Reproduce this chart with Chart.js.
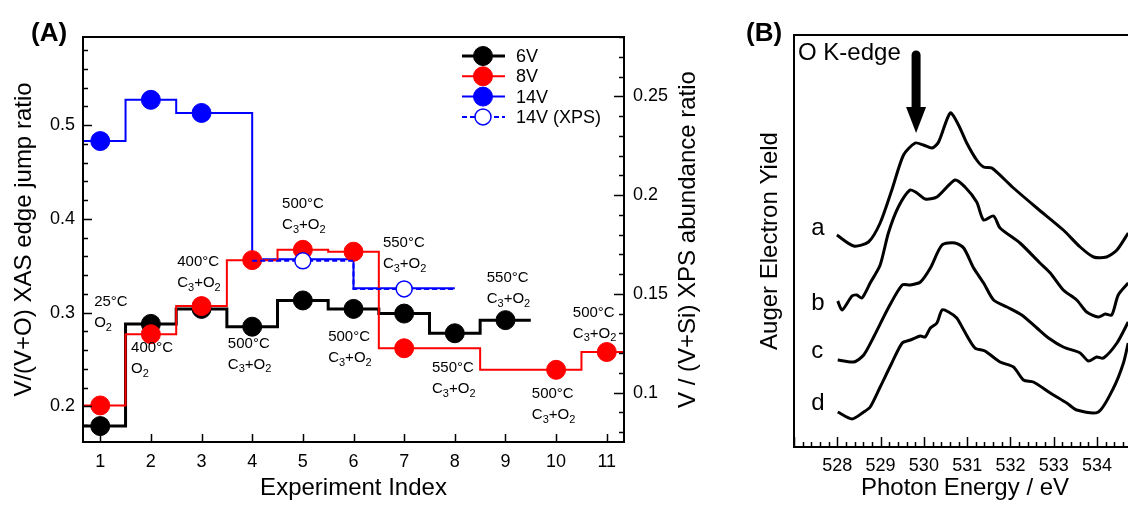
<!DOCTYPE html>
<html lang="en">
<head>
<meta charset="UTF-8" />
<title>V/(V+O) ratios and O K-edge spectra</title>
<style>
  * { margin: 0; padding: 0; box-sizing: border-box; }
  html, body { overflow: hidden; }
  body {
    width: 1128px; height: 505px; position: relative; background: #fff;
    font-family: "Liberation Sans", Arial, sans-serif;
  }
  .panel { position: absolute; top: 0; height: 505px; }
  #boxA { left: 0; width: 720px; }
  #boxB { left: 730px; width: 430px; }
  .tag { position: absolute; top: 16px; font-weight: bold; font-size: 26px; line-height: 32px; }
</style>
</head>
<body>
<div class="panel" id="boxA"><canvas id="chartA"></canvas></div>
<div class="panel" id="boxB"><canvas id="chartB"></canvas></div>
<div class="tag" style="left:31px">(A)</div>
<div class="tag" style="left:746px">(B)</div>

<script src="https://cdn.jsdelivr.net/npm/chart.js"></script>
<script>
const FONT = '"Liberation Sans", Arial, sans-serif';
Chart.defaults.font.family = FONT;
Chart.defaults.color = "#000";

// ---- panel A : experiment index vs ratio ----
const idx6V = [1, 2, 3, 4, 5, 6, 7, 8, 9];
const xas6V = [0.179, 0.288, 0.304, 0.285, 0.313, 0.304, 0.299, 0.278, 0.292];
const idx8V = [1, 2, 3, 4, 5, 6, 7, 10, 11];
const xas8V = [0.201, 0.277, 0.307, 0.356, 0.367, 0.365, 0.262, 0.239, 0.258];
const idx14V = [1, 2, 3, 5, 7];
const xas14V = [0.483, 0.527, 0.513, 0.357, 0.326];
const marked14V = [true, true, true, false, false];
const idxXps = [5, 7];
const xps14V = [0.1667, 0.1525]; // right axis

const xMin = 0.66, xMax = 11.34;

// condition labels: [index, ratio, temperature, gas]
const notes = [
  [0.88, 0.311, "25°C", "O2"],
  [1.61, 0.262, "400°C", "O2"],
  [2.52, 0.354, "400°C", "C3+O2"],
  [3.52, 0.267, "500°C", "C3+O2"],
  [4.59, 0.416, "500°C", "C3+O2"],
  [5.50, 0.274, "500°C", "C3+O2"],
  [6.58, 0.374, "550°C", "C3+O2"],
  [7.55, 0.241, "550°C", "C3+O2"],
  [8.63, 0.337, "550°C", "C3+O2"],
  [9.52, 0.213, "500°C", "C3+O2"],
  [10.33, 0.300, "500°C", "C3+O2"],
];
const legendOrder = ["6V", "8V", "14V", "14V (XPS)"];

// ---- panel B : O K-edge spectra ----
const eA = [527.99, 528.38, 528.72, 528.99, 529.26, 529.53, 529.80, 529.99, 530.19, 530.34, 530.61, 530.80, 530.99, 531.22, 531.38, 531.57, 532.07, 532.61, 533.22, 533.61, 533.92, 534.22, 534.46, 534.72];
const yA = [212, 201, 205, 224, 257, 292, 304, 302, 299, 305, 334, 322, 304, 287, 280, 279, 259, 239, 217, 200, 190, 190, 197, 214];
const eB = [528.01, 528.11, 528.34, 528.45, 528.57, 528.76, 528.99, 529.18, 529.41, 529.68, 529.84, 530.03, 530.30, 530.72, 530.95, 531.22, 531.38, 531.61, 531.76, 532.22, 532.68, 532.92, 533.22, 533.53, 533.76, 534.03, 534.19, 534.34, 534.49, 534.72];
const yB = [146, 137, 151, 152, 149, 164, 182, 214, 240, 257, 254, 248, 250, 267, 260, 245, 227, 231, 219, 204, 184, 174, 157, 147, 135, 130, 133, 132, 152, 164];
const eC = [528.01, 528.38, 528.61, 528.84, 529.19, 529.50, 529.69, 529.92, 530.15, 530.42, 530.72, 530.92, 531.15, 531.38, 531.61, 531.92, 532.26, 532.61, 532.88, 533.22, 533.61, 533.80, 533.99, 534.15, 534.46, 534.72];
const yC = [87, 85, 92, 110, 140, 162, 162, 165, 179, 202, 204, 199, 179, 164, 147, 140, 132, 119, 109, 100, 94, 86, 90, 89, 104, 125];
const eD = [528.01, 528.34, 528.61, 528.76, 528.99, 529.26, 529.50, 529.69, 529.92, 530.03, 530.15, 530.30, 530.42, 530.57, 530.76, 530.92, 531.18, 531.41, 531.76, 532.07, 532.30, 532.53, 532.92, 533.30, 533.53, 534.03, 534.38, 534.61, 534.72];
const yD = [35, 28, 35, 40, 60, 84, 104, 107, 111, 110, 119, 124, 137, 135, 129, 117, 99, 96, 85, 80, 67, 65, 54, 44, 37, 35, 59, 84, 104];
const curveLetters = [["a", 212], ["b", 137], ["c", 89], ["d", 37]];
const letterEnergy = 527.4;
const edgeEnergy = 529.82;

function stepSeries(xs, ys, from, to, marks) {
  const pts = xs.map((x, i) => ({ x: x, y: ys[i], mark: marks ? marks[i] : true }));
  pts.unshift({ x: from, y: ys[0], mark: false });
  pts.push({ x: to, y: ys[ys.length - 1], mark: false });
  return pts;
}

function drawFormula(ctx, s, x, y, size) {
  for (const ch of s) {
    const sub = /\d/.test(ch);
    ctx.font = (sub ? Math.round(size * 0.72) : size) + "px " + FONT;
    ctx.fillText(ch, x, sub ? y + size * 0.32 : y);
    x += ctx.measureText(ch).width;
  }
}

// inward tick marks, minor every `step`, major every `major`
function tickMarks(ctx, scale, step, major, majLen, minLen, edge, dir) {
  const horiz = scale.isHorizontal();
  ctx.beginPath();
  for (let k = Math.ceil(scale.min / step - 1e-6); k * step <= scale.max + 1e-9; k++) {
    const v = k * step;
    const isMajor = Math.abs(v / major - Math.round(v / major)) < 1e-6;
    const len = isMajor ? majLen : minLen;
    const p = Math.round(scale.getPixelForValue(v)) + 0.5;
    if (horiz) { ctx.moveTo(p, edge); ctx.lineTo(p, edge + dir * len); }
    else { ctx.moveTo(edge, p); ctx.lineTo(edge + dir * len, p); }
  }
  ctx.stroke();
}

const dot = (c) => (c.raw && c.raw.mark ? 9.5 : 0);

const panelA = {
  id: "panelA",
  afterDraw(chart) {
    const { ctx, chartArea: { left, right, top, bottom }, scales: { x, y, y2 } } = chart;
    ctx.save();
    ctx.strokeStyle = "#000";
    ctx.lineWidth = 2;
    ctx.strokeRect(left, top, right - left, bottom - top);
    ctx.lineWidth = 1.5;
    tickMarks(ctx, y, 0.02, 0.1, 9, 5, left, 1);
    tickMarks(ctx, y2, 0.01, 0.05, 10, 5, right, -1);
    tickMarks(ctx, x, 1, 1, 8, 8, bottom, -1);

    // condition labels
    ctx.fillStyle = "#000";
    ctx.textAlign = "left";
    ctx.textBaseline = "middle";
    notes.forEach(([ix, r, temp, gas]) => {
      const px = x.getPixelForValue(ix);
      const py = y.getPixelForValue(r);
      ctx.font = "15px " + FONT;
      ctx.fillText(temp, px, py);
      drawFormula(ctx, gas, px, py + 21, 15);
    });

    // legend
    legendOrder.forEach((lab, i) => {
      const ds = chart.data.datasets.find((d) => d.label === lab);
      const ly = top + 19 + i * 20.3;
      ctx.strokeStyle = ds.borderColor;
      ctx.lineWidth = ds.borderWidth;
      ctx.setLineDash(ds.borderDash || []);
      ctx.beginPath();
      ctx.moveTo(right - 162, ly);
      ctx.lineTo(right - 119, ly);
      ctx.stroke();
      ctx.setLineDash([]);
      ctx.beginPath();
      ctx.arc(right - 141, ly, ds.legendRadius, 0, Math.PI * 2);
      ctx.fillStyle = ds.pointBackgroundColor;
      ctx.fill();
      ctx.lineWidth = ds.pointBorderWidth;
      ctx.strokeStyle = ds.pointBorderColor;
      ctx.stroke();
      ctx.fillStyle = "#000";
      ctx.font = "18px " + FONT;
      ctx.fillText(lab, right - 108, ly + 1);
    });

    // right axis title (reads bottom to top)
    ctx.translate(688, (top + bottom) / 2);
    ctx.rotate(-Math.PI / 2);
    ctx.textAlign = "center";
    ctx.font = "24px " + FONT;
    ctx.fillText("V / (V+Si) XPS abundance ratio", 0, 0);
    ctx.restore();
  },
};

new Chart(document.getElementById("chartA"), {
  type: "line",
  data: {
    datasets: [
      {
        label: "14V (XPS)", yAxisID: "y2", order: 0,
        data: stepSeries(idxXps, xps14V, 4, 8),
        stepped: "middle", borderColor: "#0000ff", borderWidth: 2, borderDash: [5, 3],
        pointRadius: (c) => (c.raw && c.raw.mark ? 8 : 0),
        pointBackgroundColor: "#ffffff", pointBorderColor: "#0000ff", pointBorderWidth: 1.5,
        legendRadius: 8,
      },
      {
        label: "8V", yAxisID: "y", order: 1,
        data: stepSeries(idx8V, xas8V, xMin, xMax),
        stepped: "middle", borderColor: "#ff0000", borderWidth: 2,
        pointRadius: dot, pointBackgroundColor: "#ff0000", pointBorderColor: "#ff0000", pointBorderWidth: 1,
        legendRadius: 9.5,
      },
      {
        label: "6V", yAxisID: "y", order: 2,
        data: stepSeries(idx6V, xas6V, xMin, 9.5),
        stepped: "middle", borderColor: "#000000", borderWidth: 3,
        pointRadius: dot, pointBackgroundColor: "#000000", pointBorderColor: "#000000", pointBorderWidth: 1,
        legendRadius: 9.5,
      },
      {
        label: "14V", yAxisID: "y", order: 3,
        data: stepSeries(idx14V, xas14V, xMin, 8, marked14V),
        stepped: "middle", borderColor: "#0000ff", borderWidth: 2,
        pointRadius: dot, pointBackgroundColor: "#0000ff", pointBorderColor: "#0000ff", pointBorderWidth: 1,
        legendRadius: 9.5,
      },
    ],
  },
  options: {
    responsive: true,
    maintainAspectRatio: false,
    animation: false,
    events: [],
    layout: { padding: { top: 37, left: 0, right: 0, bottom: 0 } },
    plugins: { legend: { display: false }, tooltip: { enabled: false } },
    scales: {
      x: {
        type: "linear", min: xMin, max: xMax,
        grid: { display: false, drawTicks: false },
        border: { display: false },
        ticks: { stepSize: 1, includeBounds: false, padding: 9, font: { size: 18 }, callback: (v) => String(v) },
        title: { display: true, text: "Experiment Index", font: { size: 24 }, padding: { top: 0, bottom: 2 } },
        afterFit: (s) => { s.height = 63; },
      },
      y: {
        position: "left", min: 0.162, max: 0.594,
        grid: { display: false, drawTicks: false },
        border: { display: false },
        ticks: { stepSize: 0.1, includeBounds: false, padding: 8, font: { size: 18 }, callback: (v) => v.toFixed(1) },
        title: { display: true, text: "V/(V+O) XAS edge jump ratio", font: { size: 24 }, padding: { top: 10, bottom: 0 } },
        afterFit: (s) => { s.width = 83; },
      },
      y2: {
        position: "right", min: 0.075, max: 0.28,
        grid: { display: false, drawTicks: false },
        border: { display: false },
        ticks: { stepSize: 0.05, includeBounds: false, padding: 9, font: { size: 18 }, callback: (v) => String(+v.toFixed(2)) },
        afterFit: (s) => { s.width = 96; },
      },
    },
  },
  plugins: [panelA],
});

const panelB = {
  id: "panelB",
  afterDraw(chart) {
    const { ctx, chartArea: { left, right, top, bottom }, scales: { x, y } } = chart;
    ctx.save();
    ctx.strokeStyle = "#000";
    ctx.lineWidth = 2;
    ctx.strokeRect(left, top, right - left, bottom - top);
    ctx.lineWidth = 1.5;
    tickMarks(ctx, x, 0.2, 1, 10, 5, bottom, -1);

    // edge arrow
    const ax = x.getPixelForValue(edgeEnergy);
    ctx.fillStyle = "#000";
    ctx.lineWidth = 9;
    ctx.lineCap = "round";
    ctx.beginPath();
    ctx.moveTo(ax, y.getPixelForValue(392));
    ctx.lineTo(ax, y.getPixelForValue(338));
    ctx.stroke();
    ctx.beginPath();
    ctx.moveTo(ax - 10, y.getPixelForValue(340));
    ctx.lineTo(ax + 10, y.getPixelForValue(340));
    ctx.lineTo(ax, y.getPixelForValue(314));
    ctx.closePath();
    ctx.fill();

    ctx.textAlign = "left";
    ctx.textBaseline = "middle";
    ctx.font = "24px " + FONT;
    ctx.fillText("O K-edge", left + 4, top + 18);

    ctx.textBaseline = "alphabetic";
    curveLetters.forEach(([t, v]) => {
      ctx.fillText(t, x.getPixelForValue(letterEnergy), y.getPixelForValue(v));
    });
    ctx.restore();
  },
};

const curve = (es, ys) => ({
  data: es.map((e, i) => ({ x: e, y: ys[i] })),
  borderColor: "#000", borderWidth: 3, pointRadius: 0, tension: 0.25, fill: false,
});

new Chart(document.getElementById("chartB"), {
  type: "line",
  data: { datasets: [curve(eA, yA), curve(eB, yB), curve(eC, yC), curve(eD, yD)] },
  options: {
    responsive: true,
    maintainAspectRatio: false,
    animation: false,
    events: [],
    layout: { padding: { top: 35, left: 0, right: 24, bottom: 0 } },
    plugins: { legend: { display: false }, tooltip: { enabled: false } },
    scales: {
      x: {
        type: "linear", min: 527, max: 534.9,
        grid: { display: false, drawTicks: false },
        border: { display: false },
        ticks: { stepSize: 1, includeBounds: false, padding: 8, font: { size: 18 }, callback: (v) => String(v) },
        afterBuildTicks: (s) => { s.ticks = s.ticks.filter((t) => t.value > s.min && t.value < s.max); },
        title: { display: true, text: "Photon Energy / eV", font: { size: 24 }, padding: { top: 0, bottom: 2 } },
        afterFit: (s) => { s.height = 58; },
      },
      y: {
        min: 0, max: 412,
        grid: { display: false, drawTicks: false },
        border: { display: false },
        ticks: { display: false },
        title: { display: true, text: "Auger Electron Yield", font: { size: 24 }, padding: { top: 26, bottom: 0 } },
        afterFit: (s) => { s.width = 64; },
      },
    },
  },
  plugins: [panelB],
});
</script>
</body>
</html>
